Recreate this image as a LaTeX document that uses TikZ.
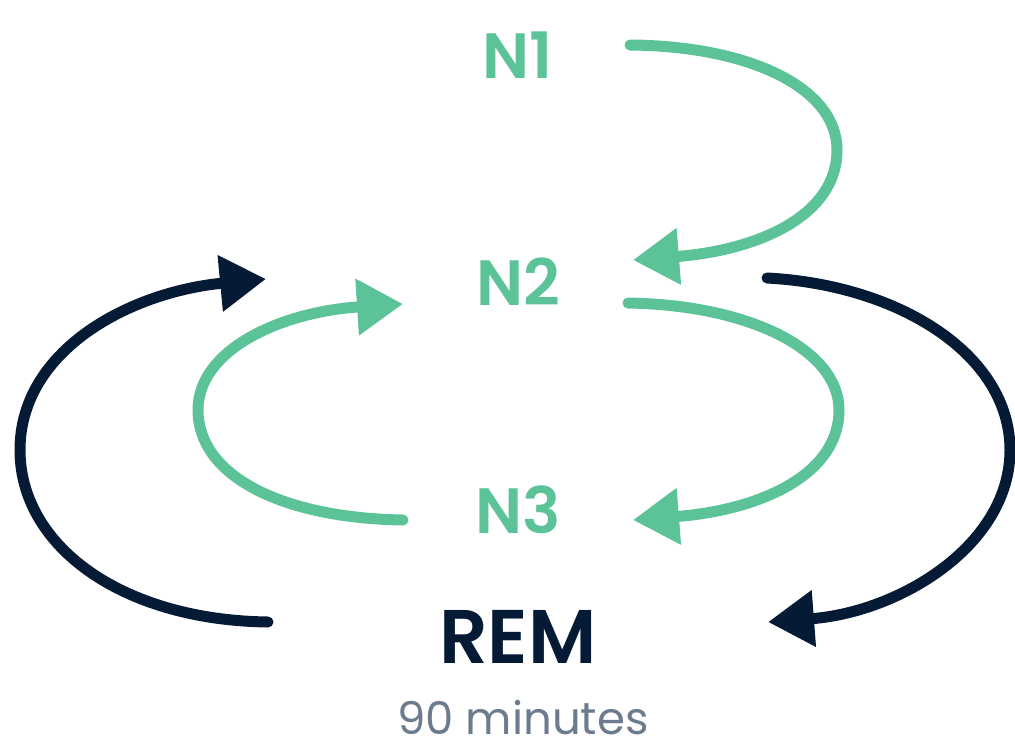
\documentclass[tikz,border=0pt]{standalone}
\usepackage{fontspec}
\setmainfont{Poppins}[BoldFont={Poppins SemiBold}]
\usetikzlibrary{arrows.meta}
\definecolor{sgreen}{HTML}{5BC397}
\definecolor{navy}{HTML}{041A35}
\definecolor{slate}{HTML}{6D7B8E}
\tikzset{
  stage/.style={text=sgreen, font=\fontsize{64}{64}\selectfont\bfseries, inner sep=0pt},
  cyc/.style={line width=11pt, line cap=round, -{Triangle[length=46pt,width=54pt]}},
  gcyc/.style={cyc, draw=sgreen, sgreen},
  dcyc/.style={cyc, draw=navy, navy},
}
\begin{document}
\begin{tikzpicture}[x=1pt,y=-1pt]
\useasboundingbox (0,0) rectangle (1015,742);
\node[stage] (N1) at (518,55) {N1};
\node[stage] (N2) at (518,282) {N2};
\node[stage] (N3) at (518,510) {N3};
\node[text=navy, font=\fontsize{76}{76}\selectfont\bfseries, inner sep=0pt] (REM) at (518,637) {REM};
\node[text=slate, font=\fontsize{45}{45}\selectfont, inner sep=0pt] (mins) at (523,718) {90 minutes};
% endpoints
\coordinate (a1) at (630,45);  \coordinate (a2) at (633,260);
\coordinate (b1) at (628,303); \coordinate (b2) at (633,520);
\coordinate (c1) at (403,520); \coordinate (c2) at (403,304);
\coordinate (d1) at (268,622); \coordinate (d2) at (266,279);
\coordinate (e1) at (767,278); \coordinate (e2) at (768,622);
% N1 -> N2
\draw[gcyc] (a1) .. controls (750,46) and (837,88) .. (837,150)
  .. controls (837,215) and (760,250) .. (a2);
% N2 -> N3
\draw[gcyc] (b1) .. controls (750,305) and (839,350) .. (839,410)
  .. controls (839,475) and (760,510) .. (b2);
% N3 -> N2
\draw[gcyc] (c1) .. controls (280,518) and (198,475) .. (198,410)
  .. controls (198,350) and (280,312) .. (c2);
% REM -> N2 (left, dark)
\draw[dcyc] (d1) .. controls (120,620) and (20,545) .. (20,450)
  .. controls (20,350) and (130,292) .. (d2);
% N2 -> REM (right, dark)
\draw[dcyc] (e1) .. controls (900,285) and (1010,355) .. (1010,450)
  .. controls (1010,545) and (900,612) .. (e2);
\end{tikzpicture}
\end{document}
